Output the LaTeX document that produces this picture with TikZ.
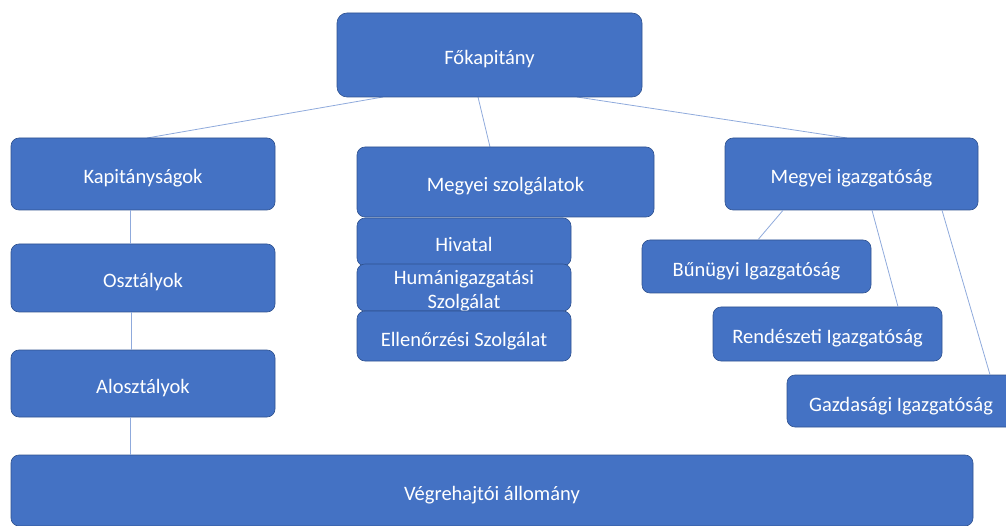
\documentclass[tikz,border=0pt]{standalone}
\usepackage{fontspec}
\setmainfont{Carlito}
\definecolor{boxfill}{HTML}{4472C4}
\definecolor{boxedge}{HTML}{2F528F}
\definecolor{linkcol}{HTML}{8FAADC}
\tikzset{
  box/.style={draw=boxedge, line width=0.6pt, fill=boxfill, rounded corners=8pt,
    text=white, align=center, inner sep=0pt, text height=25pt, text depth=5pt,
    font=\fontsize{20.5}{24}\selectfont},
  boxtext/.style={text=white, align=center, inner sep=0pt,
    font=\fontsize{20.5}{24}\selectfont},
  link/.style={draw=linkcol, line width=0.8pt}
}
\begin{document}
\begin{tikzpicture}[x=1pt,y=1pt]
\useasboundingbox (0,0) rectangle (1006,-526);

% connectors, painted first so the boxes cover their ends
\coordinate (foS) at (489.5,-97);
\coordinate (kapN) at (143,-138);
\coordinate (mszN) at (505.5,-147);
\coordinate (migN) at (851.5,-138);
\draw[link] ([xshift=-106.5]foS) -- ([xshift=4]kapN);
\draw[link] ([xshift=-11.5]foS) -- ([xshift=-15.5]mszN);
\draw[link] ([xshift=87.5]foS) -- ([xshift=-4.5]migN);

% boxes
\node[box, rounded corners=10pt, minimum width=305, minimum height=84] (fo) at (489.5,-55) {Főkapitány};
\node[box, minimum width=264, minimum height=72] (kap) at (143,-174) {Kapitányságok};
\node[box, minimum width=264, minimum height=68] (osz) at (143,-278) {Osztályok};
\node[box, minimum width=264, minimum height=67] (alo) at (143,-383.5) {Alosztályok};
\node[box, minimum width=962, minimum height=71] (veg) at (492,-490.5) {Végrehajtói állomány};
\node[box, minimum width=297, minimum height=70] (msz) at (505.5,-182) {Megyei szolgálatok};
\node[box, minimum width=214, minimum height=48] (hiv) at (464,-242) {Hivatal};
\node[box, minimum width=214, minimum height=47] (hum) at (464,-287.5) {};
\node[boxtext] (humtext) at ([yshift=-3.5]hum.center) {Humánigazgatási\\Szolgálat};
\node[box, minimum width=214, minimum height=50] (ell) at (464,-336) {Ellenőrzési Szolgálat};
\node[box, minimum width=253, minimum height=72] (mig) at (851.5,-174) {Megyei igazgatóság};
\node[box, minimum width=229, minimum height=53] (bun) at (756.5,-266.5) {Bűnügyi Igazgatóság};
\node[box, minimum width=229, minimum height=54] (ren) at (827.5,-334) {Rendészeti Igazgatóság};
\node[box, minimum width=228, minimum height=52] (gaz) at (901,-401) {Gazdasági Igazgatóság};

% connectors between the lower boxes
\draw[link] ([xshift=-13]kap.south) -- ([xshift=-13]osz.north);
\draw[link] ([xshift=-12]osz.south) -- ([xshift=-12]alo.north);
\draw[link] ([xshift=-13]alo.south) -- ([xshift=-362]veg.north);
\draw[link] ([xshift=-68.5]mig.south) -- ([xshift=1.5]bun.north);
\draw[link] ([xshift=20.5]mig.south) -- ([xshift=70.5]ren.north);
\draw[link] ([xshift=90.5]mig.south) -- ([xshift=89]gaz.north);
\end{tikzpicture}
\end{document}
